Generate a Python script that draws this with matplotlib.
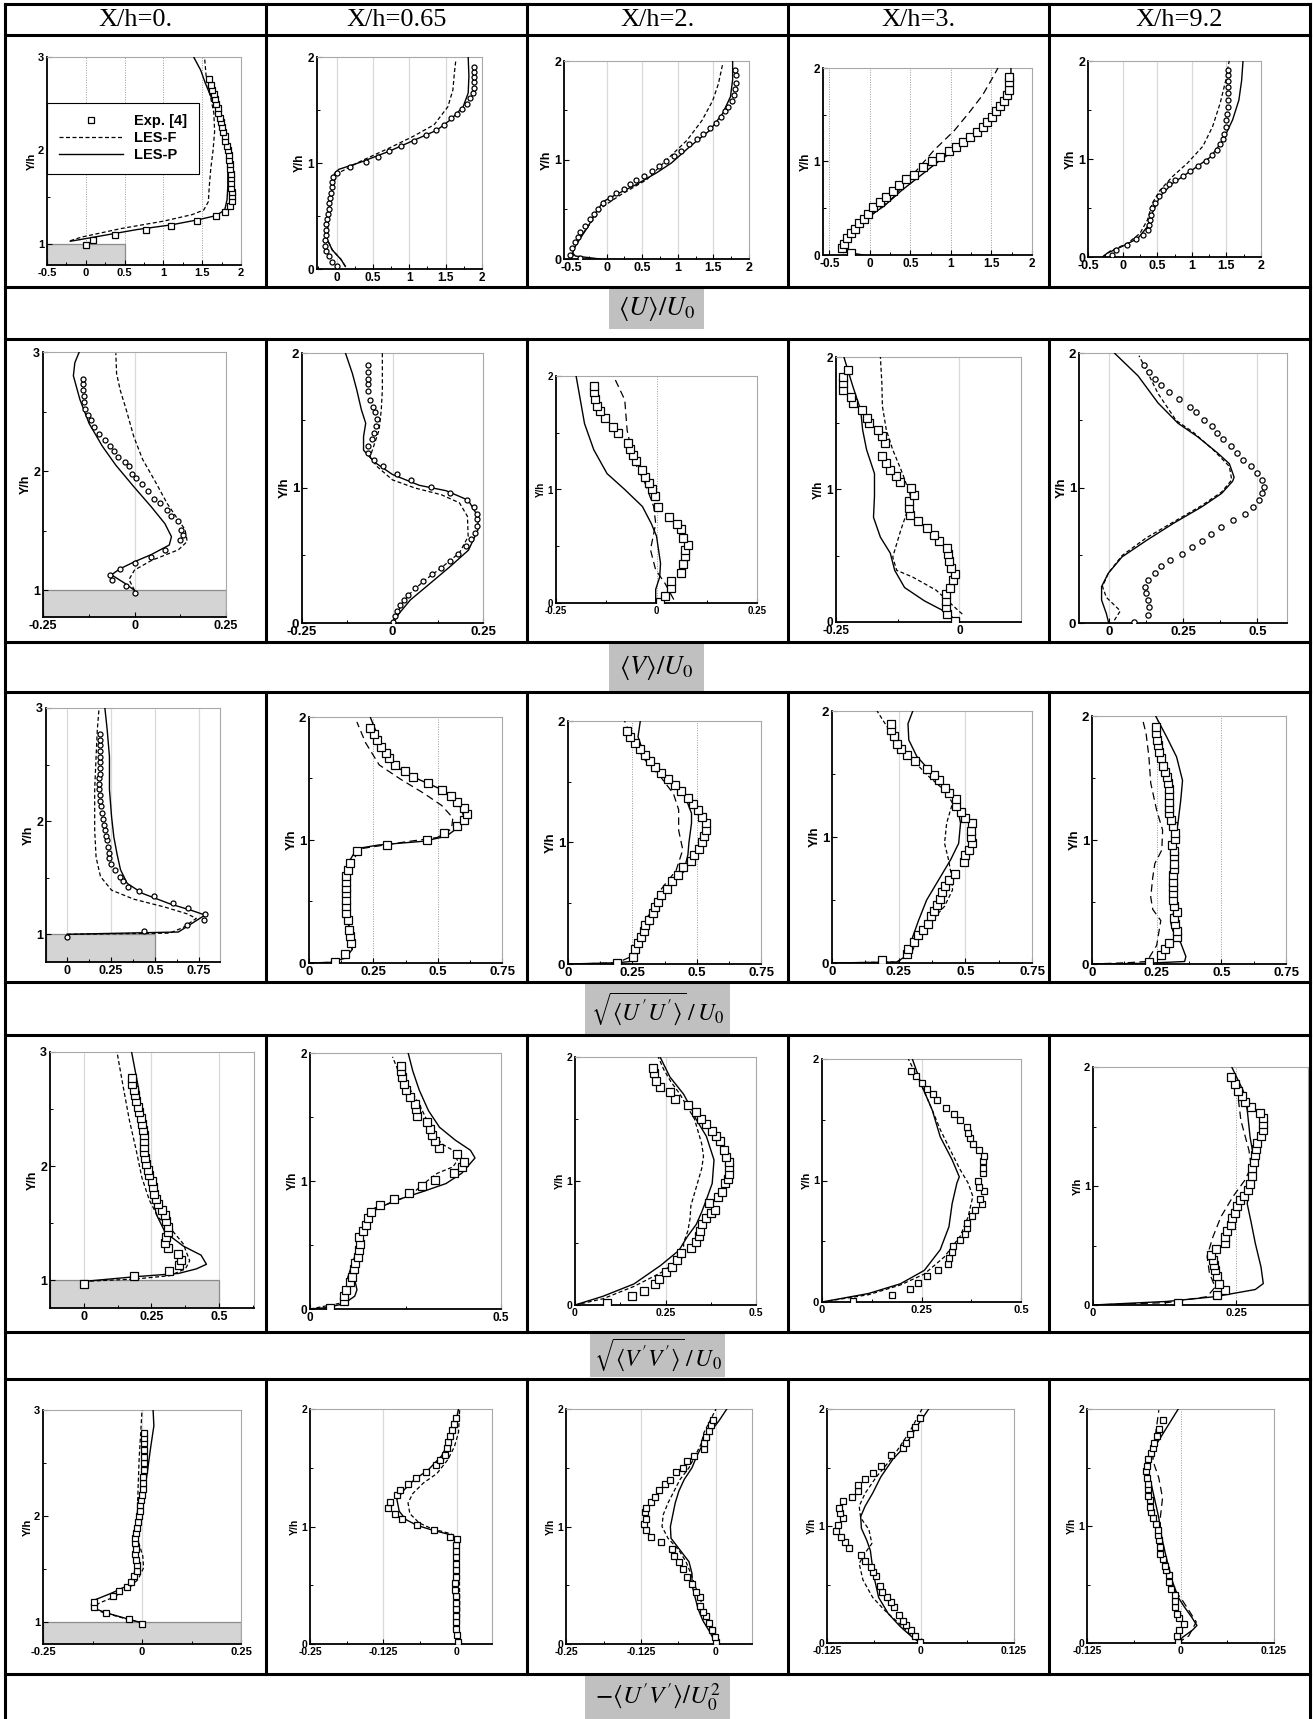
import matplotlib
matplotlib.use("Agg")
import matplotlib.pyplot as plt
from matplotlib.patches import Rectangle
from matplotlib.lines import Line2D
from matplotlib.ticker import MultipleLocator, AutoMinorLocator

plt.rcParams["mathtext.fontset"] = "stix"
plt.rcParams["font.family"] = ["Liberation Sans", "DejaVu Sans"]

# ======================= DATA =======================
stations = ["X/h=0.", "X/h=0.65", "X/h=2.", "X/h=3.", "X/h=9.2"]
quantities = [r"$\langle U\rangle/U_0$", r"$\langle V\rangle/U_0$",
              r"$\sqrt{\langle U'U'\rangle}\,/\,U_0$",
              r"$\sqrt{\langle V'V'\rangle}\,/\,U_0$",
              r"$-\langle U'V'\rangle/U_0^2$"]
legend_labels = ["Exp. [4]", "LES-F", "LES-P"]

# ---- <U>/U0 ----
p11_exp_y = [0.98,1.04,1.09,1.14,1.19,1.24,1.29,1.34,1.40,1.46,1.51,1.55,1.60,1.65,1.70,1.75,1.80,1.85,1.90,1.95,2.00,2.05,2.10,2.15,2.20,2.25,2.30,2.35,2.40,2.45,2.50,2.55,2.60,2.65,2.70,2.76]
p11_exp_x = [0.00,0.09,0.38,0.77,1.10,1.43,1.68,1.79,1.86,1.89,1.89,1.88,1.87,1.87,1.87,1.87,1.86,1.86,1.85,1.84,1.83,1.82,1.80,1.79,1.77,1.76,1.74,1.73,1.71,1.70,1.68,1.67,1.65,1.63,1.61,1.59]
p11_f_y = [1.03,1.07,1.16,1.24,1.31,1.36,1.45,1.60,1.80,2.00,2.20,2.40,2.60,2.80,3.00]
p11_f_x = [-0.20,-0.05,0.45,1.00,1.37,1.52,1.58,1.59,1.61,1.64,1.66,1.65,1.60,1.55,1.53]
p11_p_y = [1.025,1.04,1.15,1.20,1.257,1.30,1.36,1.47,1.61,1.83,2.00,2.19,2.36,2.54,2.72,2.86,3.00]
p11_p_x = [-0.20,-0.09,0.66,1.10,1.46,1.68,1.79,1.82,1.83,1.83,1.82,1.79,1.72,1.63,1.54,1.48,1.39]

p12_exp_y = [0.03,0.07,0.12,0.17,0.22,0.27,0.32,0.37,0.42,0.47,0.52,0.57,0.62,0.67,0.72,0.77,0.82,0.87,0.91,0.96,1.01,1.06,1.11,1.16,1.21,1.26,1.31,1.36,1.42,1.46,1.51,1.56,1.61,1.66,1.71,1.76,1.81,1.86,1.91]
p12_exp_x = [0.0,-0.06,-0.11,-0.14,-0.16,-0.16,-0.15,-0.15,-0.14,-0.13,-0.12,-0.11,-0.10,-0.09,-0.08,-0.07,-0.06,-0.05,0.0,0.18,0.40,0.57,0.72,0.89,1.06,1.23,1.37,1.48,1.57,1.65,1.72,1.79,1.83,1.87,1.89,1.89,1.89,1.89,1.89]
p12_f_y = [0.025,0.09,0.18,0.28,0.53,0.78,0.90,1.02,1.14,1.25,1.36,1.53,1.69,1.85,1.97]
p12_f_x = [0.12,0.06,-0.06,-0.13,-0.11,-0.06,0.01,0.34,0.72,1.05,1.34,1.53,1.60,1.62,1.64]
p12_p_y = [0.025,0.09,0.18,0.28,0.53,0.78,0.90,0.94,1.01,1.11,1.21,1.31,1.41,1.53,1.66,1.82,2.0]
p12_p_x = [0.12,0.06,-0.06,-0.13,-0.11,-0.06,-0.03,0.03,0.34,0.72,1.05,1.38,1.57,1.74,1.81,1.82,1.81]

p13_exp_y = [0.01,0.04,0.11,0.17,0.22,0.27,0.33,0.40,0.45,0.51,0.57,0.62,0.67,0.71,0.76,0.80,0.84,0.89,0.94,0.99,1.04,1.09,1.16,1.21,1.26,1.32,1.37,1.43,1.49,1.54,1.60,1.66,1.72,1.78,1.86,1.91]
p13_exp_x = [-0.37,-0.51,-0.49,-0.44,-0.40,-0.37,-0.31,-0.24,-0.18,-0.12,-0.05,0.04,0.13,0.24,0.33,0.41,0.52,0.63,0.74,0.84,0.95,1.04,1.15,1.27,1.36,1.45,1.54,1.61,1.66,1.71,1.76,1.79,1.81,1.82,1.82,1.81]
p13_f_y = [0.03,0.09,0.22,0.36,0.53,0.65,0.80,1.0,1.2,1.4,1.6,1.77,1.97]
p13_f_x = [-0.47,-0.48,-0.37,-0.23,-0.05,0.2,0.56,0.84,1.13,1.34,1.49,1.57,1.63]
p13_p_y = [0.0,0.03,0.06,0.13,0.21,0.33,0.46,0.58,0.65,0.75,0.87,0.97,1.13,1.30,1.47,1.64,1.81,2.0]
p13_p_x = [-0.09,-0.44,-0.48,-0.44,-0.37,-0.26,-0.16,-0.05,0.13,0.41,0.70,0.91,1.16,1.45,1.63,1.74,1.77,1.77]

p14_exp_y = [0.02,0.07,0.12,0.18,0.23,0.28,0.34,0.39,0.44,0.51,0.57,0.62,0.68,0.75,0.81,0.86,0.94,1.0,1.05,1.11,1.16,1.21,1.26,1.32,1.37,1.42,1.48,1.54,1.59,1.65,1.71,1.77,1.85,1.9]
p14_exp_x = [-0.23,-0.34,-0.32,-0.28,-0.24,-0.19,-0.14,-0.08,-0.02,0.04,0.12,0.2,0.28,0.36,0.45,0.54,0.65,0.76,0.86,0.97,1.06,1.15,1.23,1.32,1.4,1.45,1.51,1.56,1.61,1.66,1.69,1.71,1.72,1.71]
p14_f_y = [0.02,0.12,0.27,0.44,0.62,0.94,1.12,1.33,1.53,1.71,1.89,2.0]
p14_f_x = [-0.33,-0.30,-0.17,0.04,0.29,0.61,0.79,1.04,1.23,1.39,1.51,1.58]
p14_p_y = [0.0,0.03,0.09,0.18,0.30,0.41,0.52,0.69,0.84,1.01,1.16,1.33,1.55,1.73,1.90,2.0]
p14_p_x = [-0.08,-0.30,-0.33,-0.28,-0.17,-0.02,0.17,0.39,0.61,0.86,1.11,1.36,1.58,1.70,1.74,1.74]

p15_exp_y = [0.02,0.07,0.12,0.18,0.22,0.28,0.33,0.38,0.43,0.50,0.55,0.62,0.68,0.74,0.79,0.83,0.88,0.93,0.98,1.04,1.09,1.15,1.20,1.26,1.33,1.40,1.46,1.53,1.60,1.67,1.73,1.80,1.86,1.91]
p15_exp_x = [-0.15,-0.09,0.06,0.20,0.30,0.36,0.38,0.40,0.41,0.43,0.47,0.52,0.58,0.67,0.76,0.87,0.98,1.09,1.20,1.29,1.36,1.41,1.45,1.47,1.49,1.50,1.51,1.52,1.52,1.53,1.53,1.53,1.53,1.53]
p15_f_y = [0.0,0.06,0.14,0.24,0.38,0.55,0.68,0.82,0.96,1.13,1.33,1.57,1.80,2.0]
p15_f_x = [-0.29,-0.18,0.07,0.25,0.36,0.43,0.54,0.72,0.94,1.16,1.30,1.41,1.49,1.54]
p15_p_y = [0.0,0.04,0.11,0.19,0.31,0.45,0.62,0.75,0.89,1.02,1.19,1.40,1.60,1.80,2.0]
p15_p_x = [-0.29,-0.22,0.0,0.22,0.36,0.43,0.54,0.72,1.01,1.27,1.45,1.59,1.68,1.72,1.74]

# ---- <V>/U0 ----
p21_exp_y = [0.98,1.04,1.09,1.13,1.18,1.23,1.28,1.34,1.42,1.46,1.51,1.58,1.62,1.67,1.73,1.77,1.83,1.89,1.94,1.98,2.04,2.08,2.12,2.17,2.21,2.26,2.31,2.37,2.43,2.47,2.52,2.58,2.63,2.68,2.73,2.77]
p21_exp_x = [0.0,-0.024,-0.061,-0.066,-0.04,0.0,0.046,0.083,0.123,0.132,0.126,0.12,0.10,0.089,0.071,0.052,0.037,0.02,0.004,-0.008,-0.015,-0.027,-0.045,-0.057,-0.066,-0.08,-0.098,-0.112,-0.118,-0.127,-0.134,-0.137,-0.139,-0.142,-0.142,-0.142]
p21_f_y = [1.0,1.09,1.17,1.25,1.34,1.41,1.51,1.62,1.73,1.90,2.10,2.29,2.52,2.68,2.82,2.99]
p21_f_x = [0.0,-0.015,0.0,0.046,0.12,0.144,0.138,0.113,0.089,0.059,0.022,-0.002,-0.023,-0.039,-0.049,-0.051]
p21_p_y = [1.0,1.06,1.13,1.18,1.24,1.30,1.38,1.45,1.56,1.70,1.87,2.05,2.21,2.40,2.60,2.80,2.91,3.0]
p21_p_x = [0.0,-0.027,-0.063,-0.04,0.0,0.046,0.095,0.101,0.083,0.046,-0.002,-0.051,-0.088,-0.124,-0.149,-0.167,-0.163,-0.151]

p22_exp_y = [0.01,0.05,0.09,0.13,0.17,0.21,0.26,0.31,0.36,0.41,0.46,0.51,0.57,0.62,0.67,0.72,0.77,0.81,0.86,0.91,0.96,1.01,1.06,1.10,1.16,1.21,1.26,1.31,1.36,1.41,1.46,1.51,1.56,1.60,1.65,1.72,1.77,1.81,1.86,1.91]
p22_exp_x = [0.002,0.006,0.012,0.021,0.031,0.043,0.062,0.084,0.108,0.135,0.16,0.182,0.203,0.216,0.228,0.234,0.234,0.234,0.225,0.207,0.158,0.105,0.05,0.012,-0.025,-0.052,-0.067,-0.067,-0.058,-0.052,-0.046,-0.043,-0.049,-0.055,-0.062,-0.067,-0.069,-0.069,-0.069,-0.069]
p22_f_y = [0.0,0.06,0.14,0.22,0.31,0.41,0.52,0.64,0.79,0.89,0.95,1.0,1.06,1.16,1.23,1.31,1.43,1.58,1.73,1.88,2.0]
p22_f_x = [0.0,0.012,0.025,0.049,0.086,0.135,0.185,0.209,0.207,0.185,0.135,0.062,0.0,-0.043,-0.062,-0.052,-0.037,-0.031,-0.028,-0.028,-0.028]
p22_p_y = [0.0,0.07,0.17,0.28,0.42,0.54,0.69,0.79,0.91,0.98,1.02,1.10,1.19,1.28,1.38,1.48,1.58,1.73,1.85,2.0]
p22_p_x = [0.002,0.018,0.049,0.098,0.16,0.21,0.236,0.236,0.209,0.148,0.074,0.0,-0.049,-0.08,-0.08,-0.074,-0.086,-0.099,-0.111,-0.13]

p23_exp_y = [0.01,0.065,0.13,0.19,0.26,0.34,0.41,0.47,0.51,0.57,0.65,0.70,0.76,0.85,0.94,1.0,1.06,1.11,1.17,1.25,1.30,1.36,1.41,1.50,1.55,1.63,1.69,1.74,1.80,1.86,1.91]
p23_exp_x = [0.008,0.02,0.035,0.037,0.06,0.065,0.07,0.07,0.078,0.065,0.06,0.052,0.032,0.003,-0.004,-0.01,-0.018,-0.029,-0.035,-0.051,-0.059,-0.066,-0.07,-0.096,-0.107,-0.128,-0.14,-0.148,-0.153,-0.156,-0.156]
p23_f_y = [0.03,0.18,0.29,0.47,0.70,0.85,1.06,1.26,1.52,1.79,2.0]
p23_f_x = [0.043,0.02,-0.002,-0.015,-0.002,-0.007,-0.029,-0.057,-0.073,-0.079,-0.107]
p23_p_y = [0.0,0.12,0.23,0.35,0.59,0.70,0.85,1.0,1.14,1.35,1.58,2.0]
p23_p_x = [-0.002,-0.002,0.008,0.01,0.0,-0.013,-0.035,-0.079,-0.123,-0.156,-0.179,-0.2]

p24_exp_y = [0.01,0.06,0.11,0.16,0.21,0.26,0.32,0.36,0.41,0.46,0.51,0.56,0.61,0.66,0.71,0.76,0.81,0.86,0.91,0.96,1.01,1.06,1.10,1.15,1.20,1.25,1.35,1.40,1.45,1.50,1.54,1.60,1.65,1.70,1.75,1.80,1.85,1.90]
p24_exp_x = [-0.008,-0.024,-0.028,-0.028,-0.027,-0.019,-0.013,-0.008,-0.017,-0.02,-0.023,-0.024,-0.042,-0.051,-0.066,-0.083,-0.099,-0.103,-0.103,-0.091,-0.097,-0.121,-0.128,-0.14,-0.148,-0.156,-0.151,-0.156,-0.164,-0.184,-0.188,-0.198,-0.216,-0.22,-0.236,-0.236,-0.235,-0.226]
p24_f_y = [0.06,0.10,0.24,0.34,0.39,0.49,0.69,0.82,0.95,1.12,1.30,1.45,1.63,1.80,2.0]
p24_f_x = [0.006,-0.006,-0.047,-0.095,-0.127,-0.135,-0.119,-0.107,-0.099,-0.115,-0.135,-0.148,-0.156,-0.157,-0.16]
p24_p_y = [0.0,0.025,0.08,0.16,0.26,0.39,0.52,0.64,0.79,0.95,1.12,1.30,1.45,1.60,1.78,2.0]
p24_p_x = [0.0,-0.01,-0.03,-0.071,-0.111,-0.131,-0.14,-0.16,-0.174,-0.172,-0.172,-0.188,-0.196,-0.2,-0.216,-0.234]

p25_exp_y = [0.01,0.06,0.12,0.17,0.22,0.27,0.32,0.37,0.42,0.47,0.51,0.56,0.61,0.66,0.71,0.76,0.81,0.86,0.91,0.96,1.01,1.06,1.11,1.16,1.21,1.26,1.31,1.36,1.41,1.46,1.50,1.56,1.60,1.66,1.71,1.76,1.81,1.86,1.91]
p25_exp_x = [0.086,0.132,0.136,0.132,0.126,0.123,0.132,0.155,0.176,0.206,0.246,0.279,0.313,0.344,0.377,0.417,0.457,0.487,0.507,0.517,0.524,0.516,0.50,0.48,0.453,0.433,0.413,0.386,0.364,0.346,0.32,0.293,0.273,0.235,0.203,0.175,0.155,0.135,0.119]
p25_f_y = [0.02,0.09,0.19,0.27,0.37,0.50,0.63,0.75,0.87,0.97,1.06,1.16,1.28,1.41,1.50,1.70,1.85,1.98]
p25_f_x = [0.019,0.039,-0.008,-0.021,-0.001,0.045,0.126,0.219,0.313,0.38,0.414,0.406,0.353,0.286,0.227,0.166,0.132,0.102]
p25_p_y = [0.0,0.07,0.17,0.27,0.37,0.49,0.61,0.74,0.86,0.96,1.05,1.08,1.18,1.26,1.38,1.48,1.63,1.83,2.0]
p25_p_x = [0.0,-0.008,-0.024,-0.024,-0.001,0.045,0.126,0.219,0.313,0.38,0.417,0.422,0.406,0.366,0.299,0.233,0.166,0.099,0.019]

# ---- sqrt<U'U'>/U0 ----
p31_exp_y = [0.98,1.03,1.08,1.13,1.18,1.23,1.28,1.34,1.38,1.42,1.47,1.51,1.57,1.62,1.67,1.72,1.77,1.83,1.87,1.92,1.97,2.02,2.07,2.13,2.18,2.23,2.28,2.33,2.38,2.42,2.47,2.52,2.57,2.62,2.67,2.72,2.77]
p31_exp_x = [0.0,0.436,0.684,0.78,0.785,0.69,0.60,0.497,0.41,0.347,0.317,0.299,0.274,0.248,0.241,0.236,0.233,0.228,0.223,0.215,0.21,0.203,0.198,0.193,0.19,0.185,0.182,0.182,0.182,0.185,0.187,0.187,0.187,0.187,0.19,0.19,0.19]
p31_f_y = [1.0,1.01,1.06,1.14,1.18,1.24,1.31,1.39,1.51,1.68,1.92,2.28,2.57,2.81,3.0]
p31_f_x = [0.0,0.583,0.66,0.735,0.684,0.557,0.38,0.253,0.19,0.165,0.157,0.157,0.165,0.172,0.182]
p31_p_y = [1.0,1.02,1.17,1.21,1.27,1.36,1.45,1.57,1.71,1.86,2.04,2.28,2.57,2.81,3.0]
p31_p_x = [0.0,0.633,0.785,0.71,0.583,0.431,0.342,0.304,0.284,0.266,0.253,0.241,0.241,0.228,0.215]

p32_exp_y = [0.01,0.07,0.16,0.22,0.27,0.35,0.41,0.46,0.51,0.57,0.61,0.66,0.71,0.76,0.81,0.91,0.96,1.0,1.06,1.11,1.16,1.21,1.26,1.31,1.36,1.41,1.46,1.51,1.56,1.61,1.67,1.71,1.76,1.81,1.86,1.91]
p32_exp_x = [0.102,0.139,0.163,0.16,0.156,0.151,0.144,0.144,0.144,0.142,0.142,0.142,0.142,0.151,0.16,0.186,0.304,0.46,0.526,0.577,0.602,0.613,0.602,0.577,0.55,0.516,0.464,0.406,0.372,0.333,0.311,0.299,0.281,0.264,0.252,0.238]
p32_f_y = [0.0,0.005,0.04,0.11,0.22,0.60,0.81,0.93,0.98,1.02,1.09,1.18,1.28,1.38,1.49,1.61,1.79,1.96]
p32_f_x = [0.0,0.082,0.142,0.168,0.156,0.151,0.16,0.203,0.359,0.498,0.554,0.559,0.516,0.446,0.359,0.273,0.22,0.186]
p32_p_y = [0.0,0.005,0.04,0.11,0.22,0.60,0.84,0.93,0.96,0.99,1.03,1.11,1.19,1.33,1.41,1.49,1.61,1.73,2.0]
p32_p_x = [0.0,0.082,0.142,0.168,0.156,0.151,0.16,0.186,0.273,0.446,0.533,0.585,0.602,0.577,0.516,0.429,0.325,0.29,0.238]

p33_exp_y = [0.01,0.06,0.12,0.17,0.22,0.27,0.32,0.36,0.42,0.47,0.51,0.57,0.62,0.68,0.73,0.80,0.85,0.90,0.95,1.00,1.05,1.10,1.16,1.21,1.27,1.32,1.37,1.42,1.47,1.52,1.57,1.62,1.67,1.72,1.77,1.82,1.87,1.92]
p33_exp_x = [0.19,0.252,0.259,0.272,0.283,0.295,0.30,0.316,0.33,0.337,0.35,0.36,0.384,0.406,0.428,0.446,0.477,0.49,0.51,0.52,0.53,0.535,0.535,0.52,0.505,0.485,0.465,0.44,0.415,0.39,0.36,0.34,0.32,0.30,0.28,0.26,0.24,0.23]
p33_f_y = [0.0,0.01,0.06,0.17,0.28,0.39,0.53,0.61,0.77,0.94,1.10,1.27,1.40,1.54,1.70,1.90,2.0]
p33_f_x = [0.03,0.19,0.245,0.265,0.29,0.31,0.35,0.36,0.42,0.446,0.43,0.43,0.41,0.36,0.29,0.24,0.22]
p33_p_y = [0.0,0.01,0.02,0.09,0.22,0.33,0.50,0.64,0.76,0.90,1.0,1.16,1.24,1.43,1.57,1.70,1.87,2.0]
p33_p_x = [0.0,0.19,0.24,0.265,0.29,0.32,0.35,0.39,0.45,0.466,0.47,0.48,0.48,0.446,0.37,0.30,0.272,0.281]

p34_exp_y = [0.02,0.07,0.11,0.17,0.22,0.26,0.31,0.37,0.41,0.46,0.51,0.56,0.61,0.66,0.71,0.80,0.86,0.90,0.95,1.0,1.05,1.11,1.15,1.20,1.25,1.30,1.35,1.39,1.45,1.49,1.54,1.60,1.65,1.70,1.74,1.80,1.85,1.90]
p34_exp_x = [0.188,0.281,0.285,0.306,0.321,0.34,0.36,0.37,0.381,0.393,0.405,0.412,0.422,0.437,0.463,0.494,0.497,0.512,0.524,0.52,0.522,0.524,0.50,0.482,0.464,0.464,0.437,0.422,0.40,0.381,0.355,0.31,0.281,0.258,0.243,0.231,0.221,0.221]
p34_f_y = [0.0,0.008,0.07,0.21,0.31,0.45,0.58,0.68,0.82,0.95,1.11,1.27,1.37,1.48,1.61,1.77,1.90,2.0]
p34_f_x = [0.0,0.243,0.296,0.325,0.363,0.422,0.452,0.449,0.437,0.422,0.43,0.452,0.422,0.363,0.303,0.243,0.199,0.169]
p34_p_y = [0.0,0.008,0.07,0.21,0.34,0.50,0.66,0.82,0.95,1.11,1.27,1.40,1.50,1.64,1.77,1.90,2.0]
p34_p_x = [0.0,0.243,0.288,0.303,0.325,0.355,0.40,0.445,0.475,0.482,0.467,0.422,0.378,0.318,0.288,0.285,0.303]

p35_exp_y = [0.02,0.07,0.12,0.17,0.22,0.27,0.32,0.37,0.42,0.47,0.52,0.57,0.62,0.66,0.72,0.77,0.81,0.87,0.91,0.96,1.01,1.06,1.11,1.16,1.22,1.26,1.31,1.36,1.41,1.46,1.51,1.55,1.60,1.66,1.71,1.77,1.81,1.86,1.91]
p35_exp_x = [0.22,0.266,0.281,0.296,0.327,0.327,0.32,0.316,0.327,0.316,0.312,0.315,0.315,0.315,0.315,0.316,0.316,0.316,0.316,0.31,0.32,0.32,0.312,0.304,0.296,0.296,0.298,0.296,0.296,0.293,0.289,0.281,0.273,0.266,0.258,0.255,0.25,0.246,0.246]
p35_f_y = [0.0,0.01,0.02,0.15,0.35,0.44,0.54,0.70,0.81,0.92,1.08,1.24,1.46,1.67,1.86,1.96]
p35_f_x = [0.0,0.135,0.212,0.25,0.266,0.235,0.227,0.235,0.243,0.27,0.273,0.25,0.227,0.22,0.209,0.197]
p35_p_y = [0.0,0.005,0.02,0.06,0.17,0.27,0.34,0.46,0.65,0.87,1.0,1.13,1.32,1.48,1.67,1.83,2.0]
p35_p_x = [0.0,0.197,0.358,0.363,0.343,0.312,0.304,0.323,0.327,0.323,0.32,0.332,0.343,0.35,0.327,0.289,0.246]

# ---- sqrt<V'V'>/U0 ----
p41_exp_y = [0.97,1.04,1.08,1.13,1.18,1.23,1.28,1.33,1.38,1.42,1.47,1.52,1.57,1.62,1.67,1.71,1.76,1.82,1.87,1.92,1.97,2.02,2.07,2.12,2.17,2.22,2.27,2.32,2.37,2.42,2.47,2.52,2.57,2.62,2.67,2.72,2.77]
p41_exp_x = [0.0,0.185,0.315,0.351,0.359,0.348,0.31,0.301,0.305,0.31,0.31,0.305,0.301,0.288,0.276,0.268,0.26,0.255,0.252,0.243,0.238,0.232,0.227,0.222,0.222,0.222,0.222,0.219,0.214,0.21,0.205,0.199,0.194,0.19,0.185,0.18,0.177]
p41_f_y = [0.99,1.01,1.04,1.10,1.17,1.32,1.44,1.55,1.70,1.90,2.14,2.40,2.72,3.0]
p41_f_x = [0.0,0.185,0.318,0.376,0.392,0.368,0.326,0.276,0.243,0.215,0.194,0.169,0.144,0.123]
p41_p_y = [0.99,1.03,1.06,1.10,1.14,1.22,1.30,1.42,1.58,1.79,2.02,2.34,2.69,3.0]
p41_p_x = [0.0,0.185,0.351,0.417,0.454,0.434,0.368,0.301,0.268,0.252,0.235,0.219,0.202,0.177]

p42_exp_y = [0.01,0.06,0.10,0.15,0.21,0.25,0.31,0.36,0.41,0.46,0.51,0.56,0.61,0.66,0.71,0.76,0.81,0.86,0.91,0.96,1.01,1.06,1.11,1.15,1.21,1.26,1.31,1.36,1.41,1.46,1.51,1.56,1.60,1.66,1.71,1.76,1.81,1.86,1.90]
p42_exp_x = [0.053,0.088,0.09,0.093,0.105,0.111,0.114,0.119,0.125,0.129,0.131,0.129,0.14,0.146,0.152,0.16,0.183,0.22,0.26,0.292,0.327,0.377,0.397,0.403,0.386,0.339,0.327,0.319,0.313,0.307,0.28,0.277,0.275,0.263,0.251,0.245,0.24,0.237,0.237]
p42_f_y = [0.0,0.05,0.15,0.25,0.41,0.56,0.72,0.78,0.82,0.89,0.98,1.06,1.11,1.16,1.24,1.29,1.36,1.45,1.60,1.71,1.84,1.97]
p42_f_x = [0.0,0.088,0.099,0.099,0.117,0.134,0.146,0.158,0.204,0.263,0.298,0.333,0.374,0.386,0.374,0.345,0.327,0.31,0.286,0.263,0.234,0.216]
p42_p_y = [0.0,0.01,0.04,0.10,0.15,0.23,0.36,0.51,0.67,0.77,0.84,0.92,0.98,1.06,1.18,1.24,1.32,1.42,1.55,1.71,1.86,2.0]
p42_p_x = [0.0,0.041,0.088,0.117,0.123,0.117,0.123,0.134,0.146,0.169,0.216,0.298,0.356,0.397,0.432,0.42,0.38,0.339,0.31,0.286,0.269,0.257]

p43_exp_y = [0.02,0.07,0.11,0.17,0.21,0.27,0.31,0.36,0.42,0.46,0.51,0.56,0.60,0.65,0.70,0.74,0.77,0.82,0.87,0.91,0.98,1.02,1.06,1.11,1.15,1.19,1.25,1.32,1.36,1.40,1.46,1.50,1.56,1.61,1.66,1.72,1.76,1.81,1.87,1.91]
p43_exp_x = [0.089,0.157,0.191,0.221,0.231,0.25,0.268,0.281,0.293,0.321,0.335,0.342,0.345,0.352,0.362,0.375,0.387,0.371,0.396,0.407,0.415,0.423,0.426,0.426,0.426,0.418,0.412,0.401,0.39,0.379,0.363,0.349,0.335,0.312,0.275,0.262,0.235,0.224,0.219,0.215]
p43_f_y = [0.0,0.05,0.15,0.26,0.39,0.5,0.6,0.7,0.8,0.9,1.0,1.1,1.2,1.3,1.4,1.5,1.6,1.7,1.8,1.9,2.0]
p43_f_x = [0.0,0.077,0.163,0.237,0.30,0.30,0.312,0.318,0.32,0.33,0.34,0.35,0.355,0.35,0.34,0.33,0.31,0.29,0.265,0.245,0.23]
p43_p_y = [0.0,0.07,0.17,0.32,0.44,0.55,0.65,0.75,0.85,0.98,1.17,1.36,1.52,1.57,1.70,1.84,2.0]
p43_p_x = [0.0,0.077,0.163,0.237,0.287,0.31,0.335,0.35,0.363,0.379,0.384,0.363,0.33,0.324,0.30,0.262,0.235]

p44_exp_y = [0.01,0.06,0.11,0.16,0.21,0.26,0.31,0.36,0.41,0.46,0.51,0.56,0.61,0.65,0.71,0.76,0.81,0.85,0.91,0.95,1.0,1.06,1.10,1.16,1.20,1.25,1.30,1.35,1.39,1.44,1.50,1.55,1.60,1.66,1.71,1.75,1.80,1.86,1.90]
p44_exp_x = [0.077,0.175,0.22,0.242,0.265,0.292,0.317,0.319,0.327,0.33,0.347,0.36,0.365,0.364,0.377,0.385,0.402,0.397,0.407,0.395,0.392,0.405,0.405,0.405,0.407,0.395,0.38,0.372,0.367,0.365,0.347,0.332,0.312,0.289,0.279,0.265,0.252,0.237,0.224]
p44_f_y = [0.0,0.06,0.14,0.23,0.37,0.54,0.70,0.87,0.98,1.09,1.22,1.42,1.58,1.77,2.0]
p44_f_x = [0.0,0.117,0.197,0.257,0.307,0.347,0.367,0.379,0.367,0.347,0.327,0.297,0.277,0.252,0.217]
p44_p_y = [0.0,0.07,0.15,0.26,0.43,0.62,0.81,0.98,1.03,1.17,1.36,1.58,1.77,2.0]
p44_p_x = [0.0,0.117,0.197,0.257,0.297,0.319,0.327,0.339,0.345,0.327,0.297,0.277,0.252,0.227]

p45_exp_y = [0.02,0.08,0.13,0.18,0.24,0.29,0.34,0.38,0.42,0.47,0.52,0.57,0.62,0.67,0.73,0.77,0.83,0.88,0.92,0.97,1.02,1.08,1.15,1.20,1.26,1.31,1.36,1.42,1.47,1.52,1.57,1.61,1.66,1.71,1.76,1.80,1.86,1.92]
p45_exp_x = [0.149,0.216,0.23,0.22,0.216,0.213,0.211,0.209,0.206,0.214,0.23,0.23,0.233,0.241,0.242,0.248,0.251,0.257,0.263,0.27,0.274,0.278,0.278,0.28,0.283,0.285,0.286,0.293,0.297,0.297,0.297,0.291,0.276,0.265,0.26,0.253,0.248,0.24]
p45_f_y = [0.0,0.02,0.07,0.15,0.27,0.41,0.57,0.74,0.91,1.05,1.16,1.30,1.55,1.75,1.94]
p45_f_x = [0.0,0.129,0.199,0.213,0.203,0.199,0.209,0.223,0.244,0.265,0.276,0.272,0.258,0.253,0.242]
p45_p_y = [0.0,0.03,0.07,0.13,0.18,0.32,0.52,0.69,0.85,0.97,1.08,1.22,1.41,1.64,1.80,2.0]
p45_p_x = [0.0,0.129,0.213,0.283,0.297,0.293,0.283,0.276,0.269,0.272,0.281,0.281,0.274,0.269,0.262,0.242]

# ---- -<U'V'>/U0^2 ----
p51_exp_y = [0.98,1.03,1.08,1.14,1.19,1.24,1.29,1.33,1.38,1.43,1.48,1.54,1.58,1.64,1.69,1.74,1.79,1.84,1.89,1.94,2.0,2.05,2.10,2.15,2.20,2.25,2.31,2.37,2.43,2.50,2.56,2.62,2.69,2.74,2.78]
p51_exp_x = [0.0,-0.032,-0.091,-0.12,-0.12,-0.074,-0.057,-0.038,-0.029,-0.02,-0.012,-0.012,-0.015,-0.018,-0.016,-0.018,-0.018,-0.015,-0.012,-0.01,-0.007,-0.006,-0.005,-0.003,-0.001,0.002,0.002,0.002,0.004,0.004,0.004,0.004,0.004,0.005,0.005]
p51_f_y = [0.99,1.03,1.09,1.13,1.18,1.24,1.32,1.40,1.51,1.62,1.77,1.99,2.25,2.56,2.8,3.0]
p51_f_x = [0.0,-0.043,-0.1,-0.128,-0.106,-0.066,-0.032,-0.01,0.004,0.002,-0.01,-0.012,-0.01,-0.007,-0.003,0.0]
p51_p_y = [0.99,1.01,1.07,1.12,1.16,1.21,1.27,1.35,1.46,1.62,1.84,2.09,2.40,2.65,2.85,3.0]
p51_p_x = [0.0,-0.02,-0.077,-0.117,-0.128,-0.117,-0.077,-0.032,-0.019,-0.015,-0.01,0.0,0.013,0.022,0.03,0.028]

p52_exp_y = [0.02,0.08,0.13,0.19,0.24,0.30,0.35,0.41,0.46,0.52,0.57,0.63,0.68,0.74,0.79,0.84,0.89,0.91,0.97,1.01,1.06,1.11,1.16,1.21,1.27,1.31,1.36,1.41,1.46,1.52,1.57,1.61,1.67,1.72,1.77,1.82,1.87,1.92]
p52_exp_x = [0.0015,0.0,-0.001,-0.001,-0.002,-0.002,-0.002,-0.002,-0.003,-0.003,-0.002,-0.002,-0.002,-0.002,-0.001,-0.001,0.0,-0.011,-0.038,-0.068,-0.094,-0.105,-0.117,-0.113,-0.102,-0.096,-0.083,-0.07,-0.053,-0.035,-0.028,-0.02,-0.016,-0.015,-0.012,-0.008,-0.004,-0.001]
p52_f_y = [0.0,0.32,0.89,0.94,0.98,1.03,1.11,1.20,1.28,1.37,1.45,1.57,1.68,1.80,2.0]
p52_f_x = [0.004,0.005,0.004,-0.011,-0.042,-0.064,-0.08,-0.083,-0.075,-0.057,-0.034,-0.015,-0.004,0.003,0.005]
p52_p_y = [0.0,0.32,0.89,0.93,0.97,1.01,1.06,1.13,1.23,1.31,1.40,1.48,1.60,1.74,1.88,2.0]
p52_p_x = [0.004,0.0,0.0,-0.011,-0.042,-0.068,-0.087,-0.098,-0.102,-0.09,-0.072,-0.049,-0.026,-0.011,-0.002,0.003]

p53_exp_y = [0.02,0.06,0.12,0.18,0.24,0.27,0.32,0.40,0.44,0.51,0.57,0.64,0.70,0.75,0.81,0.87,0.91,0.97,1.02,1.06,1.12,1.16,1.21,1.25,1.31,1.36,1.40,1.46,1.50,1.56,1.60,1.66,1.71,1.76,1.81,1.86,1.91]
p53_exp_x = [0.0,-0.001,-0.007,-0.012,-0.017,-0.022,-0.027,-0.026,-0.033,-0.04,-0.048,-0.055,-0.062,-0.07,-0.074,-0.091,-0.109,-0.116,-0.12,-0.116,-0.119,-0.116,-0.109,-0.102,-0.095,-0.085,-0.077,-0.066,-0.055,-0.048,-0.037,-0.02,-0.02,-0.016,-0.012,-0.008,-0.005]
p53_f_y = [0.0,0.1,0.2,0.3,0.4,0.5,0.6,0.7,0.8,0.9,1.0,1.1,1.2,1.3,1.4,1.5,1.6,1.7,1.8,1.9,2.0]
p53_f_x = [0.005,-0.003,-0.012,-0.02,-0.028,-0.035,-0.042,-0.05,-0.062,-0.08,-0.09,-0.088,-0.08,-0.07,-0.06,-0.045,-0.035,-0.025,-0.02,-0.01,0.0]
p53_p_y = [0.0,0.1,0.2,0.3,0.4,0.5,0.6,0.7,0.8,0.9,1.0,1.1,1.2,1.3,1.4,1.5,1.6,1.7,1.8,1.9,2.0]
p53_p_x = [0.0,-0.01,-0.022,-0.03,-0.035,-0.04,-0.04,-0.045,-0.06,-0.075,-0.076,-0.072,-0.068,-0.062,-0.053,-0.04,-0.032,-0.022,-0.01,0.005,0.018]

p54_exp_y = [0.01,0.06,0.11,0.15,0.19,0.24,0.31,0.35,0.39,0.44,0.49,0.57,0.61,0.65,0.70,0.75,0.81,0.86,0.91,0.96,1.01,1.07,1.11,1.15,1.21,1.25,1.30,1.35,1.40,1.45,1.51,1.61,1.67,1.71,1.79,1.85,1.92]
p54_exp_x = [-0.001,-0.008,-0.013,-0.019,-0.024,-0.029,-0.036,-0.04,-0.045,-0.051,-0.054,-0.059,-0.063,-0.066,-0.074,-0.08,-0.096,-0.101,-0.106,-0.113,-0.11,-0.104,-0.107,-0.109,-0.104,-0.092,-0.084,-0.084,-0.074,-0.064,-0.053,-0.04,-0.024,-0.019,-0.014,-0.008,-0.001]
p54_f_y = [0.0,0.07,0.17,0.28,0.39,0.54,0.68,0.77,0.85,0.97,1.07,1.17,1.28,1.42,1.59,1.8,2.0]
p54_f_x = [0.0,-0.013,-0.029,-0.048,-0.064,-0.077,-0.082,-0.074,-0.065,-0.069,-0.08,-0.082,-0.074,-0.059,-0.037,-0.015,0.002]
p54_p_y = [0.0,0.05,0.14,0.25,0.39,0.59,0.79,0.88,0.98,1.08,1.17,1.28,1.42,1.57,1.68,1.85,2.0]
p54_p_x = [0.0,-0.011,-0.027,-0.043,-0.056,-0.063,-0.067,-0.072,-0.079,-0.08,-0.074,-0.064,-0.053,-0.037,-0.021,-0.005,0.011]

p55_exp_y = [0.01,0.06,0.11,0.16,0.21,0.25,0.31,0.36,0.41,0.46,0.52,0.58,0.62,0.66,0.72,0.76,0.82,0.88,0.92,0.97,1.02,1.07,1.12,1.16,1.22,1.26,1.32,1.36,1.41,1.47,1.51,1.57,1.62,1.67,1.71,1.77,1.83,1.91]
p55_exp_x = [-0.004,-0.005,-0.002,0.005,-0.002,-0.005,-0.007,-0.007,-0.008,-0.013,-0.016,-0.016,-0.019,-0.021,-0.023,-0.027,-0.028,-0.029,-0.03,-0.03,-0.033,-0.037,-0.04,-0.041,-0.041,-0.043,-0.043,-0.044,-0.045,-0.046,-0.045,-0.043,-0.04,-0.037,-0.035,-0.032,-0.029,-0.024]
p55_f_y = [0.0,0.06,0.18,0.26,0.36,0.48,0.65,0.88,1.07,1.24,1.41,1.56,1.8,1.99]
p55_f_x = [-0.004,0.011,0.021,0.013,0.003,-0.011,-0.021,-0.027,-0.027,-0.024,-0.029,-0.037,-0.033,-0.029]
p55_p_y = [0.0,0.05,0.11,0.15,0.22,0.31,0.39,0.53,0.73,0.90,1.07,1.27,1.47,1.67,2.0]
p55_p_x = [-0.004,0.003,0.016,0.022,0.015,0.005,-0.003,-0.011,-0.019,-0.025,-0.029,-0.036,-0.043,-0.035,-0.003]

# ======================= LAYOUT =======================
W, H = 1313, 1719
fig = plt.figure(figsize=(W / 100, H / 100), dpi=100)


def frac(l, t, r, b):
    return [l / W, 1 - b / H, (r - l) / W, (b - t) / H]


def fmt(v):
    return "0" if v == 0 else "%g" % v


def panel(box, xlim, ylim, xt, yt, fs, grid, dotted, mk, ms, long_dash,
          data, step=None, legend=False):
    ex, ey, fx, fy, px_, py = data
    ax = fig.add_axes(frac(*box))
    ax.set_xlim(xlim)
    ax.set_ylim(ylim)
    for g in grid:
        if dotted:
            ax.axvline(g, color="#9a9a9a", lw=0.7, ls=(0, (1, 1.5)), zorder=0)
        else:
            ax.axvline(g, color="#d9d9d9", lw=0.9, zorder=0)
    if step is not None:
        ax.add_patch(Rectangle((xlim[0], ylim[0]), step - xlim[0], 1 - ylim[0],
                               facecolor="#d4d4d4", edgecolor="#8c8c8c",
                               lw=0.9, zorder=0.5))
    dash = (6, 3.5) if long_dash else (3.2, 2.0)
    hp, = ax.plot(px_, py, color="black", lw=1.0, zorder=3)
    hf, = ax.plot(fx, fy, color="black", lw=0.9, dashes=dash, zorder=3)
    he, = ax.plot(ex, ey, ls="none", marker=mk, ms=ms, mfc="white", mec="black",
                  mew=0.9, zorder=4)
    for s in ("left", "bottom"):
        ax.spines[s].set_linewidth(1.3)
        ax.spines[s].set_color("black")
    for s in ("top", "right"):
        ax.spines[s].set_linewidth(0.8)
        ax.spines[s].set_color("#a8a8a8")
    ax.set_xticks(xt, [fmt(v) for v in xt], fontsize=fs, fontweight="bold")
    ax.set_yticks(yt, [fmt(v) for v in yt], fontsize=fs, fontweight="bold")
    ax.xaxis.set_minor_locator(AutoMinorLocator(2))
    ax.yaxis.set_minor_locator(MultipleLocator(0.5))
    ax.tick_params(which="major", direction="in", length=3.5, width=0.8, pad=2)
    ax.tick_params(which="minor", direction="in", length=2.2, width=0.7)
    ax.set_ylabel("Y/h", fontsize=fs, fontweight="bold", labelpad=1)
    if legend:
        top = (2.51 - ylim[0]) / (ylim[1] - ylim[0])
        lg = ax.legend([he, hf, hp], legend_labels, loc="upper left",
                       bbox_to_anchor=(0, top), borderaxespad=0,
                       prop={"weight": "bold", "size": 10.5}, numpoints=1,
                       handlelength=4.4, handletextpad=0.75, borderpad=0.8,
                       labelspacing=0.2, fancybox=False, framealpha=1,
                       edgecolor="black")
        lg.get_frame().set_linewidth(0.8)
        lg.set_zorder(5)
    return ax


U2 = [-0.5, 0, 0.5, 1, 1.5, 2]
U2b = [0, 0.5, 1, 1.5, 2]
Y2 = [0, 1, 2]
Y3 = [1, 2, 3]
Q = [0, 0.25, 0.5, 0.75]

# Row 1
panel((47, 57, 241, 265), (-0.5, 2), (0.77, 3), U2, Y3, 8, [0, 0.5, 1, 1.5], True, "s", 4.3, False,
      (p11_exp_x, p11_exp_y, p11_f_x, p11_f_y, p11_p_x, p11_p_y), step=0.5, legend=True)
panel((317, 57, 482, 269), (-0.27, 2), (0, 2), U2b, Y2, 8.5, [0, 0.5, 1, 1.5], False, "o", 3.6, False,
      (p12_exp_x, p12_exp_y, p12_f_x, p12_f_y, p12_p_x, p12_p_y))
panel((564, 61, 749, 259), (-0.6, 2), (0, 2), U2, Y2, 9, [0, 0.5, 1, 1.5], False, "o", 3.6, False,
      (p13_exp_x, p13_exp_y, p13_f_x, p13_f_y, p13_p_x, p13_p_y))
panel((823, 68, 1032, 255), (-0.58, 2), (0, 2), U2, Y2, 8.5, [-0.5, 0, 0.5, 1, 1.5], True, "s", 5.2, True,
      (p14_exp_x, p14_exp_y, p14_f_x, p14_f_y, p14_p_x, p14_p_y))
panel((1088, 61, 1261, 257), (-0.5, 2), (0, 2), U2, Y2, 9, [0, 0.5, 1, 1.5], False, "o", 3.6, False,
      (p15_exp_x, p15_exp_y, p15_f_x, p15_f_y, p15_p_x, p15_p_y))

# Row 2
panel((43, 352, 226, 617), (-0.25, 0.25), (0.776, 3), [-0.25, 0, 0.25], Y3, 9, [0], False, "o", 3.6, False,
      (p21_exp_x, p21_exp_y, p21_f_x, p21_f_y, p21_p_x, p21_p_y), step=0.25)
panel((302, 353, 483, 623), (-0.25, 0.25), (0, 2), [-0.25, 0, 0.25], Y2, 9.5, [0], False, "o", 3.6, False,
      (p22_exp_x, p22_exp_y, p22_f_x, p22_f_y, p22_p_x, p22_p_y))
panel((556, 376, 757, 603), (-0.25, 0.25), (0, 2), [-0.25, 0, 0.25], Y2, 7, [0], True, "s", 5.2, True,
      (p23_exp_x, p23_exp_y, p23_f_x, p23_f_y, p23_p_x, p23_p_y))
panel((836, 357, 1021, 622), (-0.25, 0.125), (0, 2), [-0.25, 0], Y2, 8.5, [0], False, "s", 6.0, False,
      (p24_exp_x, p24_exp_y, p24_f_x, p24_f_y, p24_p_x, p24_p_y))
panel((1079, 353, 1287, 623), (-0.1, 0.6), (0, 2), [0, 0.25, 0.5], Y2, 9.5, [0, 0.25, 0.5], False, "o", 3.8, False,
      (p25_exp_x, p25_exp_y, p25_f_x, p25_f_y, p25_p_x, p25_p_y))

# Row 3
panel((46, 708, 220, 962), (-0.12, 0.87), (0.755, 3), Q, Y3, 9, Q, False, "o", 3.6, False,
      (p31_exp_x, p31_exp_y, p31_f_x, p31_f_y, p31_p_x, p31_p_y), step=0.5)
panel((309, 717, 502, 963), (0, 0.75), (0, 2), Q, Y2, 9.5, [0.25, 0.5], True, "s", 5.6, True,
      (p32_exp_x, p32_exp_y, p32_f_x, p32_f_y, p32_p_x, p32_p_y))
panel((568, 721, 761, 964), (0, 0.75), (0, 2), Q, Y2, 9.5, [0.25, 0.5], True, "s", 5.6, True,
      (p33_exp_x, p33_exp_y, p33_f_x, p33_f_y, p33_p_x, p33_p_y))
panel((832, 711, 1032, 963), (0, 0.75), (0, 2), Q, Y2, 9.5, [0.25, 0.5], False, "s", 5.6, False,
      (p34_exp_x, p34_exp_y, p34_f_x, p34_f_y, p34_p_x, p34_p_y))
panel((1092, 716, 1286, 964), (0, 0.75), (0, 2), Q, Y2, 9.5, [0.25, 0.5], True, "s", 5.6, True,
      (p35_exp_x, p35_exp_y, p35_f_x, p35_f_y, p35_p_x, p35_p_y))

# Row 4
panel((50, 1052, 254, 1308), (-0.125, 0.63), (0.757, 3), [0, 0.25, 0.5], Y3, 9, [0, 0.25, 0.5], False, "s", 5.4, False,
      (p41_exp_x, p41_exp_y, p41_f_x, p41_f_y, p41_p_x, p41_p_y), step=0.5)
panel((310, 1053, 501, 1309), (0, 0.5), (0, 2), [0, 0.5], Y2, 8.5, [], False, "s", 5.2, False,
      (p42_exp_x, p42_exp_y, p42_f_x, p42_f_y, p42_p_x, p42_p_y))
panel((575, 1057, 756, 1305), (0, 0.5), (0, 2), [0, 0.25, 0.5], Y2, 7.5, [0.25], False, "s", 5.2, False,
      (p43_exp_x, p43_exp_y, p43_f_x, p43_f_y, p43_p_x, p43_p_y))
panel((822, 1059, 1021, 1302), (0, 0.5), (0, 2), [0, 0.25, 0.5], Y2, 8, [0.25], False, "s", 4.0, False,
      (p44_exp_x, p44_exp_y, p44_f_x, p44_f_y, p44_p_x, p44_p_y))
panel((1093, 1067, 1308, 1305), (0, 0.375), (0, 2), [0, 0.25], Y2, 8, [0.25], True, "s", 5.4, True,
      (p45_exp_x, p45_exp_y, p45_f_x, p45_f_y, p45_p_x, p45_p_y))

# Row 5
panel((43, 1410, 241, 1644), (-0.25, 0.25), (0.79, 3), [-0.25, 0, 0.25], Y3, 8, [0], False, "s", 5.0, False,
      (p51_exp_x, p51_exp_y, p51_f_x, p51_f_y, p51_p_x, p51_p_y), step=0.25)
panel((310, 1409, 492, 1644), (-0.25, 0.06), (0, 2), [-0.25, -0.125, 0], Y2, 7.5, [-0.125, 0], False, "s", 5.0, False,
      (p52_exp_x, p52_exp_y, p52_f_x, p52_f_y, p52_p_x, p52_p_y))
panel((566, 1409, 752, 1644), (-0.25, 0.06), (0, 2), [-0.25, -0.125, 0], Y2, 7.5, [-0.125, 0], False, "s", 5.0, False,
      (p53_exp_x, p53_exp_y, p53_f_x, p53_f_y, p53_p_x, p53_p_y))
panel((827, 1409, 1014, 1643), (-0.125, 0.125), (0, 2), [-0.125, 0, 0.125], Y2, 7.5, [0], False, "s", 5.0, False,
      (p54_exp_x, p54_exp_y, p54_f_x, p54_f_y, p54_p_x, p54_p_y))
panel((1087, 1409, 1274, 1643), (-0.125, 0.125), (0, 2), [-0.125, 0, 0.125], Y2, 7.5, [0], True, "s", 5.0, True,
      (p55_exp_x, p55_exp_y, p55_f_x, p55_f_y, p55_p_x, p55_p_y))

# ======================= TABLE =======================
col_x = [5, 266, 527, 788, 1049, 1310]
h_lines = [4, 35, 287, 339, 642, 692, 982, 1035, 1332, 1379, 1674]
cell_rows = [(4, 35), (35, 287), (339, 642), (692, 982), (1035, 1332), (1379, 1674)]


def line(x0, y0, x1, y1):
    fig.add_artist(Line2D([x0 / W, x1 / W], [1 - y0 / H, 1 - y1 / H], color="black",
                          lw=2.2, solid_capstyle="projecting", transform=fig.transFigure))


for y in h_lines:
    line(col_x[0], y, col_x[-1], y)
line(col_x[0], 4, col_x[0], H)
line(col_x[-1], 4, col_x[-1], H)
for (y0, y1) in cell_rows:
    for x in col_x[1:-1]:
        line(x, y0, x, y1)

for i, s in enumerate(stations):
    cx = (col_x[i] + col_x[i + 1]) / 2
    fig.text(cx / W, 1 - 20 / H, s, ha="center", va="center", fontsize=19,
             family="Liberation Serif")

label_boxes = [(609, 288, 704, 329), (609, 644, 704, 691), (585, 983, 730, 1034),
               (590, 1333, 725, 1377), (585, 1676, 730, 1719)]
label_sizes = [19, 19, 17, 17, 18]
for q, (l, t, r, b), fsz in zip(quantities, label_boxes, label_sizes):
    fig.add_artist(Rectangle((l / W, 1 - b / H), (r - l) / W, (b - t) / H,
                             facecolor="#c0c0c0", edgecolor="none", transform=fig.transFigure))
    fig.text((l + r) / 2 / W, 1 - (t + b) / 2 / H, q, ha="center", va="center", fontsize=fsz)

fig.savefig("out.png", dpi=100, facecolor="white")
